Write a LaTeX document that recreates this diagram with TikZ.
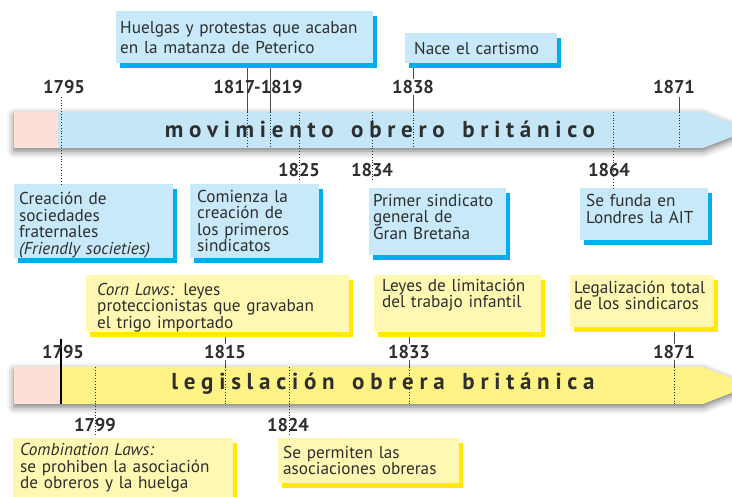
\documentclass[tikz,border=0pt]{standalone}
\usepackage{fontspec}
\setmainfont{PT Sans}
\newfontfamily\espaciada[LetterSpace=25]{PT Sans}
\usetikzlibrary{shadows, shadows.blur}

\definecolor{celeste}{HTML}{C7E9F9}
\definecolor{azul}{HTML}{00AEEF}
\definecolor{bandaazul}{HTML}{C4E6F6}
\definecolor{crema}{HTML}{FFF8B3}
\definecolor{amarillo}{HTML}{FFEA00}
\definecolor{bandaamarilla}{HTML}{FFF385}
\definecolor{rosa}{HTML}{FCE0D5}
\definecolor{tinta}{HTML}{2E2E2E}

\begin{document}
\begin{tikzpicture}[x=1pt, y=-1pt,
    caja/.style={anchor=north west, inner ysep=0pt, align=left, text=tinta,
      font=\fontsize{17.2}{16.5}\selectfont},
    cajaazul/.style={caja, fill=celeste,
      drop shadow={fill=azul, opacity=1, shadow xshift=4pt, shadow yshift=-5pt}},
    cajaamarilla/.style={caja, fill=crema,
      drop shadow={fill=amarillo, opacity=1, shadow xshift=4pt, shadow yshift=-5pt}},
    anio/.style={font=\fontsize{18.5}{18.5}\selectfont\bfseries, text=tinta, inner sep=1pt},
    titulo/.style={font=\fontsize{23}{23}\selectfont\espaciada\bfseries, text=tinta},
    banda/.style={blur shadow={shadow xshift=0pt, shadow yshift=-3pt,
      shadow blur radius=7pt, shadow opacity=55}},
    guia/.style={draw=tinta!85, line width=1pt},
    punteado/.style={draw=tinta, line width=0.8pt, dotted}]
  \useasboundingbox (0,0) rectangle (732,497);

  %movimiento obrero
  \fill[bandaazul, banda] (14,112) -- (703,112) -- (750,130) -- (703,148) -- (14,148) -- cycle;
  \fill[rosa] (14,112) rectangle (58,148);
  \node[titulo] (movimiento) at (380,129) {movimiento\hspace{6pt} obrero\hspace{6pt} británico};

  \node[cajaazul, inner xsep=4pt, text width=249pt, minimum height=52pt,
    font=\fontsize{17.2}{20}\selectfont] (huelgas) at (116,11)
    {Huelgas y protestas que acaban\\en la matanza de Peterico};
  \node[cajaazul, inner xsep=9pt, text width=134pt, minimum height=30pt] (cartismo) at (405,33)
    {Nace el cartismo};
  \node[cajaazul, inner xsep=5pt, text width=149pt, minimum height=74pt] (friendly) at (14,184)
    {\rule{0pt}{20pt}Creación de\\sociedades\\fraternales\\\textit{(Friendly societies)}};
  \node[cajaazul, inner xsep=7pt, text width=115pt, minimum height=74pt] (sindicatos) at (190,184)
    {Comienza la\\creación de\\los primeros\\sindicatos};
  \node[cajaazul, inner xsep=4pt, text width=129pt, minimum height=67pt] (general) at (369,188)
    {Primer sindicato\\general de\\Gran Bretaña\\[-6pt]\mbox{}};
  \node[cajaazul, inner xsep=6pt, text width=116pt, minimum height=52pt] (ait) at (580,188)
    {Se funda en\\Londres la AIT\\[-6pt]\mbox{}};

  \coordinate (t1817) at (247,112);
  \coordinate (t1819) at (270,112);
  \coordinate (t1838) at (413,112);
  \coordinate (t1871) at (679,112);
  \draw[guia] ([yshift=-5pt]huelgas.south -| t1817) -- (t1817);
  \draw[guia] ([yshift=-5pt]huelgas.south -| t1819) -- (t1819);
  \draw[guia] ([yshift=-5pt]cartismo.south -| t1838) -- (t1838);
  \draw[guia] (679,97) -- (t1871);
  \foreach \x in {247, 270, 413, 679}{
    \draw[punteado] (\x,112) -- (\x,148);
  }
  \draw[punteado] (61,97) -- (friendly.north -| 61,0);
  \foreach \x/\y in {299/182, 372/182, 613/188}{
    \draw[punteado] (\x,112) -- (\x,\y);
  }
  \node[anio, fill=white] (a1795) at (64,87) {1795};
  \node[anio] (a1817) at (258,87) {1817-1819};
  \node[anio, fill=white] (a1838) at (413,87) {1838};
  \node[anio, fill=white] (a1871) at (674,87) {1871};
  \node[anio] (a1825) at (299,170) {1825};
  \node[anio] (a1834) at (372,170) {1834};
  \node[anio] (a1864) at (609,170) {1864};

  %legislacion obrera
  \fill[bandaamarilla, banda] (14,367) -- (703,367) -- (750,385.5) -- (703,404) -- (14,404) -- cycle;
  \fill[rosa] (14,367) rectangle (60,404);
  \node[titulo] (legislacion) at (383,384) {legislación\hspace{6pt} obrera\hspace{6pt} británica};

  \node[cajaamarilla, inner xsep=11pt, text width=241pt, minimum height=57pt] (corn) at (86,275)
    {\rule{0pt}{20pt}\textit{Corn Laws:} leyes\\proteccionistas que gravaban\\el trigo importado};
  \node[cajaamarilla, inner xsep=8pt, text width=151pt, minimum height=57pt] (infantil) at (374,275)
    {Leyes de limitación\\del trabajo infantil\\[4pt]\mbox{}};
  \node[cajaamarilla, inner xsep=4pt, text width=136pt, minimum height=52pt] (legal) at (570,275)
    {Legalización total\\de los sindicaros\\[-5pt]\mbox{}};
  \node[cajaamarilla, inner xsep=7pt, text width=206pt, minimum height=60pt] (combination) at (13,438)
    {\textit{Combination Laws:}\\se prohiben la asociación\\de obreros y la huelga};
  \node[cajaamarilla, inner xsep=5pt, text width=171pt, minimum height=45pt] (asociaciones) at (278,438)
    {Se permiten las\\asociaciones obreras};

  \coordinate (l1815) at (225,367);
  \coordinate (l1833) at (409,367);
  \coordinate (l1871) at (674,367);
  \draw[guia] ([yshift=-5pt]corn.south -| l1815) -- (l1815);
  \draw[guia] ([yshift=-5pt]infantil.south -| l1833) -- (l1833);
  \draw[guia] ([yshift=-5pt]legal.south -| l1871) -- (l1871);
  \draw[draw=black, line width=1.4pt] (61,339) -- (61,404);
  \foreach \x in {225, 409, 674}{
    \draw[punteado] (\x,367) -- (\x,404);
  }
  \foreach \x in {95, 289}{
    \draw[punteado] (\x,367) -- (\x,435);
  }
  \node[anio] (b1795) at (63,352) {1795};
  \node[anio, fill=white] (b1815) at (225,352) {1815};
  \node[anio, fill=white] (b1833) at (409,352) {1833};
  \node[anio, fill=white] (b1871) at (674,352) {1871};
  \node[anio] (b1799) at (95,425) {1799};
  \node[anio] (b1824) at (288,425) {1824};
\end{tikzpicture}
\end{document}
